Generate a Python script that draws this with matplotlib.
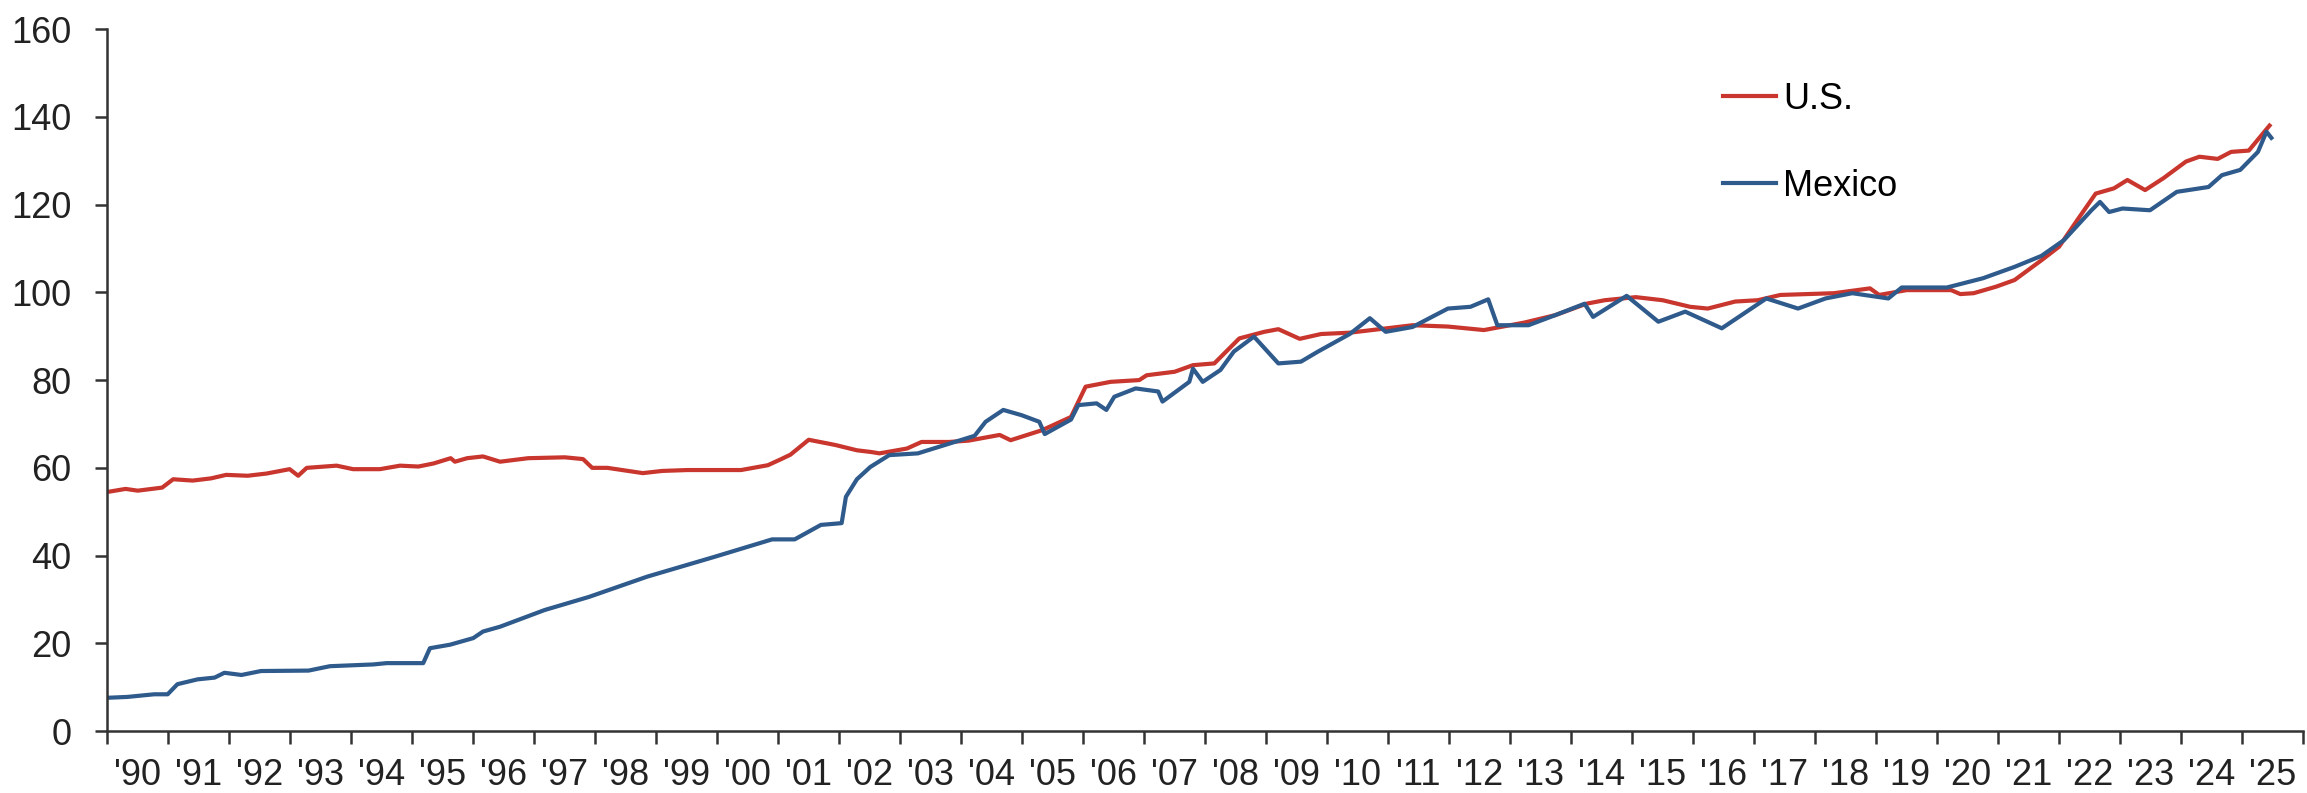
import matplotlib.pyplot as plt

plt.rcParams['font.family'] = ['Liberation Sans', 'DejaVu Sans']

# index levels, decimal year -> value
us_years = [1990.0, 1990.3, 1990.5, 1990.9, 1991.08, 1991.4, 1991.7, 1991.95, 1992.3,
            1992.61, 1992.99, 1993.13, 1993.27, 1993.76, 1994.03, 1994.47, 1994.8,
            1995.1, 1995.35, 1995.63, 1995.7, 1995.9, 1996.16, 1996.44, 1996.9,
            1997.5, 1997.8, 1997.95, 1998.2, 1998.78, 1999.1, 1999.51, 2000.39,
            2000.83, 2001.05, 2001.2, 2001.5, 2001.94, 2002.29, 2002.53, 2002.66,
            2003.11, 2003.35, 2003.8, 2004.12, 2004.63, 2004.81, 2005.33, 2005.8,
            2006.04, 2006.45, 2006.92, 2007.04, 2007.5, 2007.8, 2008.15, 2008.56,
            2008.97, 2009.2, 2009.55, 2009.9, 2010.37, 2011.4, 2011.98, 2012.57,
            2013.23, 2013.74, 2014.25, 2014.55, 2015.06, 2015.5, 2015.95, 2016.24,
            2016.69, 2017.06, 2017.43, 2018.31, 2018.9, 2019.05, 2019.5, 2020.23,
            2020.38, 2020.6, 2020.97, 2021.27, 2021.71, 2022.0, 2022.3, 2022.6,
            2022.9, 2023.12, 2023.41, 2023.71, 2024.08, 2024.3, 2024.6, 2024.82,
            2025.11, 2025.45]
us_values = [54.5, 55.2, 54.8, 55.5, 57.4, 57.1, 57.6, 58.4, 58.2,
             58.7, 59.7, 58.2, 60.0, 60.5, 59.7, 59.7, 60.5,
             60.3, 61.0, 62.2, 61.4, 62.2, 62.6, 61.4, 62.2,
             62.4, 62.0, 60.0, 60.0, 58.8, 59.3, 59.5, 59.5,
             60.6, 62.0, 63.0, 66.4, 65.2, 64.0, 63.6, 63.3,
             64.4, 65.9, 65.9, 66.2, 67.5, 66.3, 68.6, 71.6,
             78.5, 79.6, 80.0, 81.1, 81.9, 83.4, 83.8, 89.5,
             91.0, 91.6, 89.4, 90.5, 90.8, 92.5, 92.2, 91.4,
             93.1, 94.8, 97.4, 98.2, 98.9, 98.2, 96.7, 96.3,
             97.9, 98.2, 99.4, 99.8, 100.9, 99.4, 100.5, 100.5,
             99.6, 99.8, 101.3, 102.8, 107.3, 110.4, 116.5, 122.5,
             123.7, 125.6, 123.3, 126.0, 129.8, 130.9, 130.4, 132.0,
             132.3, 138.0]

mx_years = [1990.0, 1990.33, 1990.77, 1990.99, 1991.15, 1991.48, 1991.76, 1991.92,
            1992.2, 1992.52, 1993.3, 1993.65, 1994.36, 1994.58, 1995.18, 1995.29,
            1995.62, 1996.0, 1996.16, 1996.44, 1997.17, 1997.9, 1998.85, 1999.95,
            2000.9, 2001.27, 2001.7, 2002.04, 2002.11, 2002.29, 2002.51, 2002.82,
            2003.29, 2003.8, 2004.22, 2004.4, 2004.69, 2004.99, 2005.28, 2005.37,
            2005.8, 2005.92, 2006.22, 2006.38, 2006.51, 2006.86, 2007.23, 2007.3,
            2007.74, 2007.8, 2007.96, 2008.25, 2008.47, 2008.8, 2009.2, 2009.57,
            2009.85, 2010.37, 2010.7, 2010.96, 2011.4, 2011.98, 2012.35, 2012.64,
            2012.79, 2013.3, 2013.74, 2014.22, 2014.36, 2014.91, 2015.43, 2015.87,
            2016.47, 2017.2, 2017.72, 2018.17, 2018.61, 2019.2, 2019.42, 2020.16,
            2020.75, 2021.27, 2021.71, 2022.08, 2022.53, 2022.67, 2022.82, 2023.04,
            2023.49, 2023.93, 2024.45, 2024.67, 2024.97, 2025.26, 2025.4, 2025.48]
mx_values = [7.6, 7.8, 8.4, 8.4, 10.7, 11.8, 12.2, 13.3,
             12.8, 13.7, 13.8, 14.8, 15.2, 15.5, 15.5, 18.9,
             19.7, 21.2, 22.7, 23.8, 27.6, 30.6, 35.2, 39.7,
             43.7, 43.7, 47.0, 47.4, 53.4, 57.4, 60.2, 62.9,
             63.3, 65.5, 67.3, 70.5, 73.2, 72.0, 70.5, 67.7,
             71.0, 74.3, 74.7, 73.2, 76.2, 78.1, 77.4, 75.1,
             79.6, 82.6, 79.6, 82.3, 86.5, 89.9, 83.8, 84.2,
             86.5, 90.5, 94.1, 91.0, 92.1, 96.3, 96.7, 98.4,
             92.5, 92.5, 94.8, 97.4, 94.4, 99.2, 93.3, 95.6,
             91.8, 98.6, 96.3, 98.6, 99.8, 98.6, 101.1, 101.1,
             103.2, 105.8, 108.3, 111.9, 118.7, 120.6, 118.3, 119.1,
             118.7, 122.9, 124.0, 126.7, 127.9, 132.0, 136.6, 135.2]

years = list(range(1990, 2026))
year_labels = ["'" + str(y)[2:] for y in years]
y_ticks = [0, 20, 40, 60, 80, 100, 120, 140, 160]

fig = plt.figure(figsize=(23.07, 7.93), dpi=100)
ax = fig.add_subplot(111)
fig.subplots_adjust(left=0.0465, right=0.9983, bottom=0.078, top=0.9634)

ax.plot(us_years, us_values, color='#C8362E', lw=3, label='U.S.')
ax.plot(mx_years, mx_values, color='#2F5A8C', lw=3, label='Mexico')

ax.set_xlim(1990, 2026)
ax.set_ylim(0, 160)

# year ticks at boundaries, labels centred in each year
ax.set_xticks(years + [2026])
ax.set_xticklabels([])
ax.set_xticks([y + 0.5 for y in years], minor=True)
ax.set_xticklabels(year_labels, minor=True)
ax.tick_params(axis='x', which='major', direction='out', length=9, width=1.8,
               color='#333333')
ax.tick_params(axis='x', which='minor', length=0, pad=19, labelsize=26,
               labelcolor='#222222')

ax.set_yticks(y_ticks)
ax.tick_params(axis='y', direction='out', length=9, width=1.8, color='#333333',
               pad=17, labelsize=26, labelcolor='#222222')

for side in ['top', 'right']:
    ax.spines[side].set_visible(False)
for side in ['left', 'bottom']:
    ax.spines[side].set_color('#333333')
    ax.spines[side].set_linewidth(1.8)

ax.legend(loc='upper left', bbox_to_anchor=(0.736, 0.925), frameon=False,
          fontsize=26, handlelength=1.45, handletextpad=0.2, labelspacing=1.45,
          borderpad=0, borderaxespad=0)

fig.savefig('out.png', dpi=100)
